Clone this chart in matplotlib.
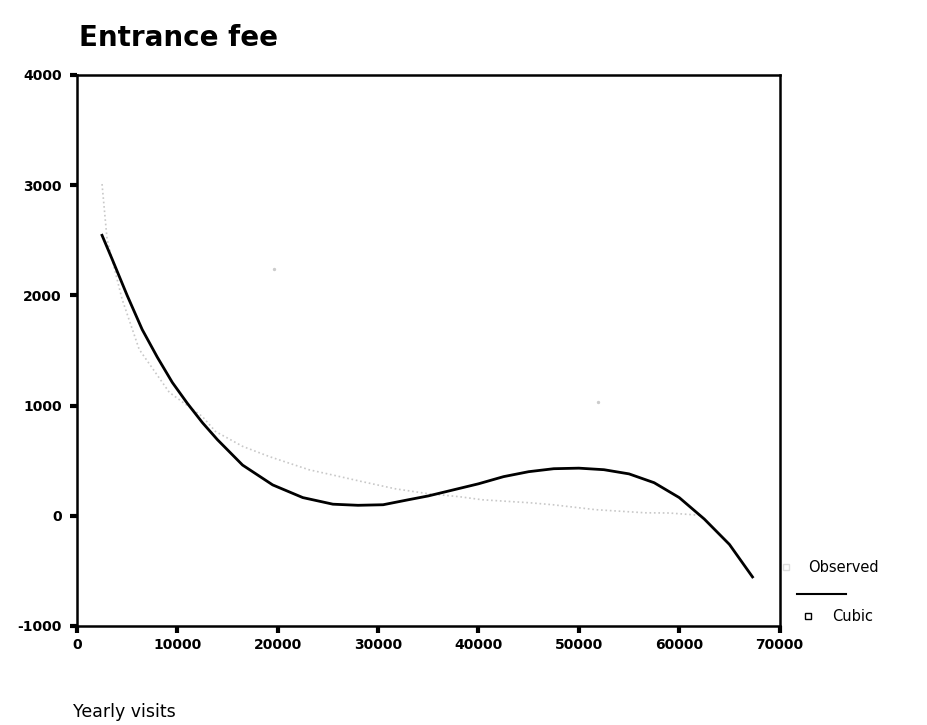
import matplotlib
matplotlib.use("Agg")
from matplotlib import pyplot as plt
from matplotlib.lines import Line2D

plt.rcParams["axes.unicode_minus"] = False

# Observed values (faint grey curve)
observed_x = [2500, 3000, 4500, 6200, 9200, 12500, 13800, 16500, 19200, 23100,
              26700, 28400, 31700, 35000, 38100, 40400, 45100, 47400, 51700,
              56600, 59000, 62000]
observed_y = [3010, 2510, 1965, 1510, 1120, 900, 765, 630, 536, 418,
              345, 310, 245, 200, 173, 145, 118, 100, 55,
              27, 25, 5]

# two stray observed points
outlier_x = [19640, 51940]
outlier_y = [2236, 1036]

# Cubic fit line
cubic_x = [2500, 3500, 5000, 6500, 8000, 9500, 11000, 12500, 14000, 16500,
           19500, 22500, 25500, 28000, 30500, 33000, 35000, 37500, 40000,
           42500, 45000, 47500, 50000, 52500, 55000, 57500, 60000, 62500,
           65000, 67300]
cubic_y = [2545, 2330, 2000, 1690, 1440, 1210, 1020, 845, 690, 460,
           280, 165, 105, 95, 100, 145, 180, 235, 290,
           355, 400, 427, 432, 418, 380, 300, 165, -30,
           -260, -555]

x_ticks = [0, 10000, 20000, 30000, 40000, 50000, 60000, 70000]
y_ticks = [-1000, 0, 1000, 2000, 3000, 4000]

fig = plt.figure(figsize=(9.27, 7.25), dpi=100)
ax = fig.add_axes([0.083, 0.1366, 0.758, 0.76])

ax.plot(observed_x, observed_y, color="#c8c8c8", linestyle=":", linewidth=1.2)
ax.scatter(outlier_x, outlier_y, color="#cccccc", s=2)
ax.plot(cubic_x, cubic_y, color="black", linewidth=2)

ax.set_xlim(0, 70000)
ax.set_ylim(-1000, 4000)
ax.set_xticks(x_ticks)
ax.set_yticks(y_ticks)
ax.tick_params(direction="out", length=5, width=3, labelsize=10)
ax.tick_params(axis="y", pad=6)
for lab in ax.get_xticklabels() + ax.get_yticklabels():
    lab.set_fontweight("bold")
for sp in ax.spines.values():
    sp.set_linewidth(1.8)

fig.text(0.085, 0.948, "Entrance fee", fontsize=20, fontweight="bold",
         ha="left", va="center")
fig.text(0.079, 0.018, "Yearly visits", fontsize=12.5, ha="left", va="center")

# legend drawn by hand, as in the original
fig.text(0.872, 0.217, "Observed", fontsize=10.5, ha="left", va="center")
fig.add_artist(Line2D([0.848], [0.218], marker="s", markersize=5,
                      markerfacecolor="none", markeredgecolor="#dddddd",
                      linestyle="none", transform=fig.transFigure))
fig.add_artist(Line2D([0.860, 0.913], [0.181, 0.181], color="black",
                      linewidth=1.5, transform=fig.transFigure))
fig.add_artist(Line2D([0.872], [0.150], marker="s", markersize=5,
                      markerfacecolor="none", markeredgecolor="black",
                      linestyle="none", transform=fig.transFigure))
fig.text(0.898, 0.150, "Cubic", fontsize=10.5, ha="left", va="center")

fig.savefig("out.png", dpi=100)
